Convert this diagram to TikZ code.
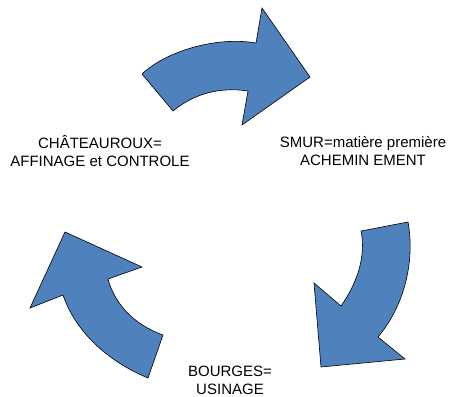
\documentclass[tikz,border=0pt]{standalone}
\usepackage{fontspec}
\setmainfont{Liberation Sans}
\definecolor{arrowblue}{HTML}{4F81BD}
\begin{document}
\begin{tikzpicture}[x=1pt,y=-1pt,
  cyclearrow/.style={fill=arrowblue,draw=black,line width=0.6pt,line join=miter},
  label/.style={align=center,font=\fontsize{15}{18}\selectfont,inner sep=0pt}]
\useasboundingbox (0,0) rectangle (454,396);
% top arrow
\path[cyclearrow] (142,74) .. controls (165,52) and (215,36) .. (256,43)
  -- (262,8) -- (310,77) -- (242,125) -- (248,91)
  .. controls (215,86) and (190,97) .. (173,111) -- cycle;
% right arrow
\path[cyclearrow] (408,222) .. controls (415,260) and (405,305) .. (378,337)
  -- (405,359) -- (321,367) -- (314,283) -- (341,306)
  .. controls (358,282) and (366,255) .. (361,231) -- cycle;
% left arrow
\path[cyclearrow] (65,232) -- (142,267) -- (108,279)
  .. controls (115,305) and (135,325) .. (163,335) -- (148,378)
  .. controls (105,360) and (75,330) .. (63,295) -- (30,308) -- cycle;
\node[label] (chat) at (100,151) {CHÂTEAUROUX=\\AFFINAGE et CONTROLE};
\node[label] (smur) at (363,151) {SMUR=matière première\\ACHEMIN EMENT};
\node[label] (bourges) at (230,380) {BOURGES=\\USINAGE};
\end{tikzpicture}
\end{document}
